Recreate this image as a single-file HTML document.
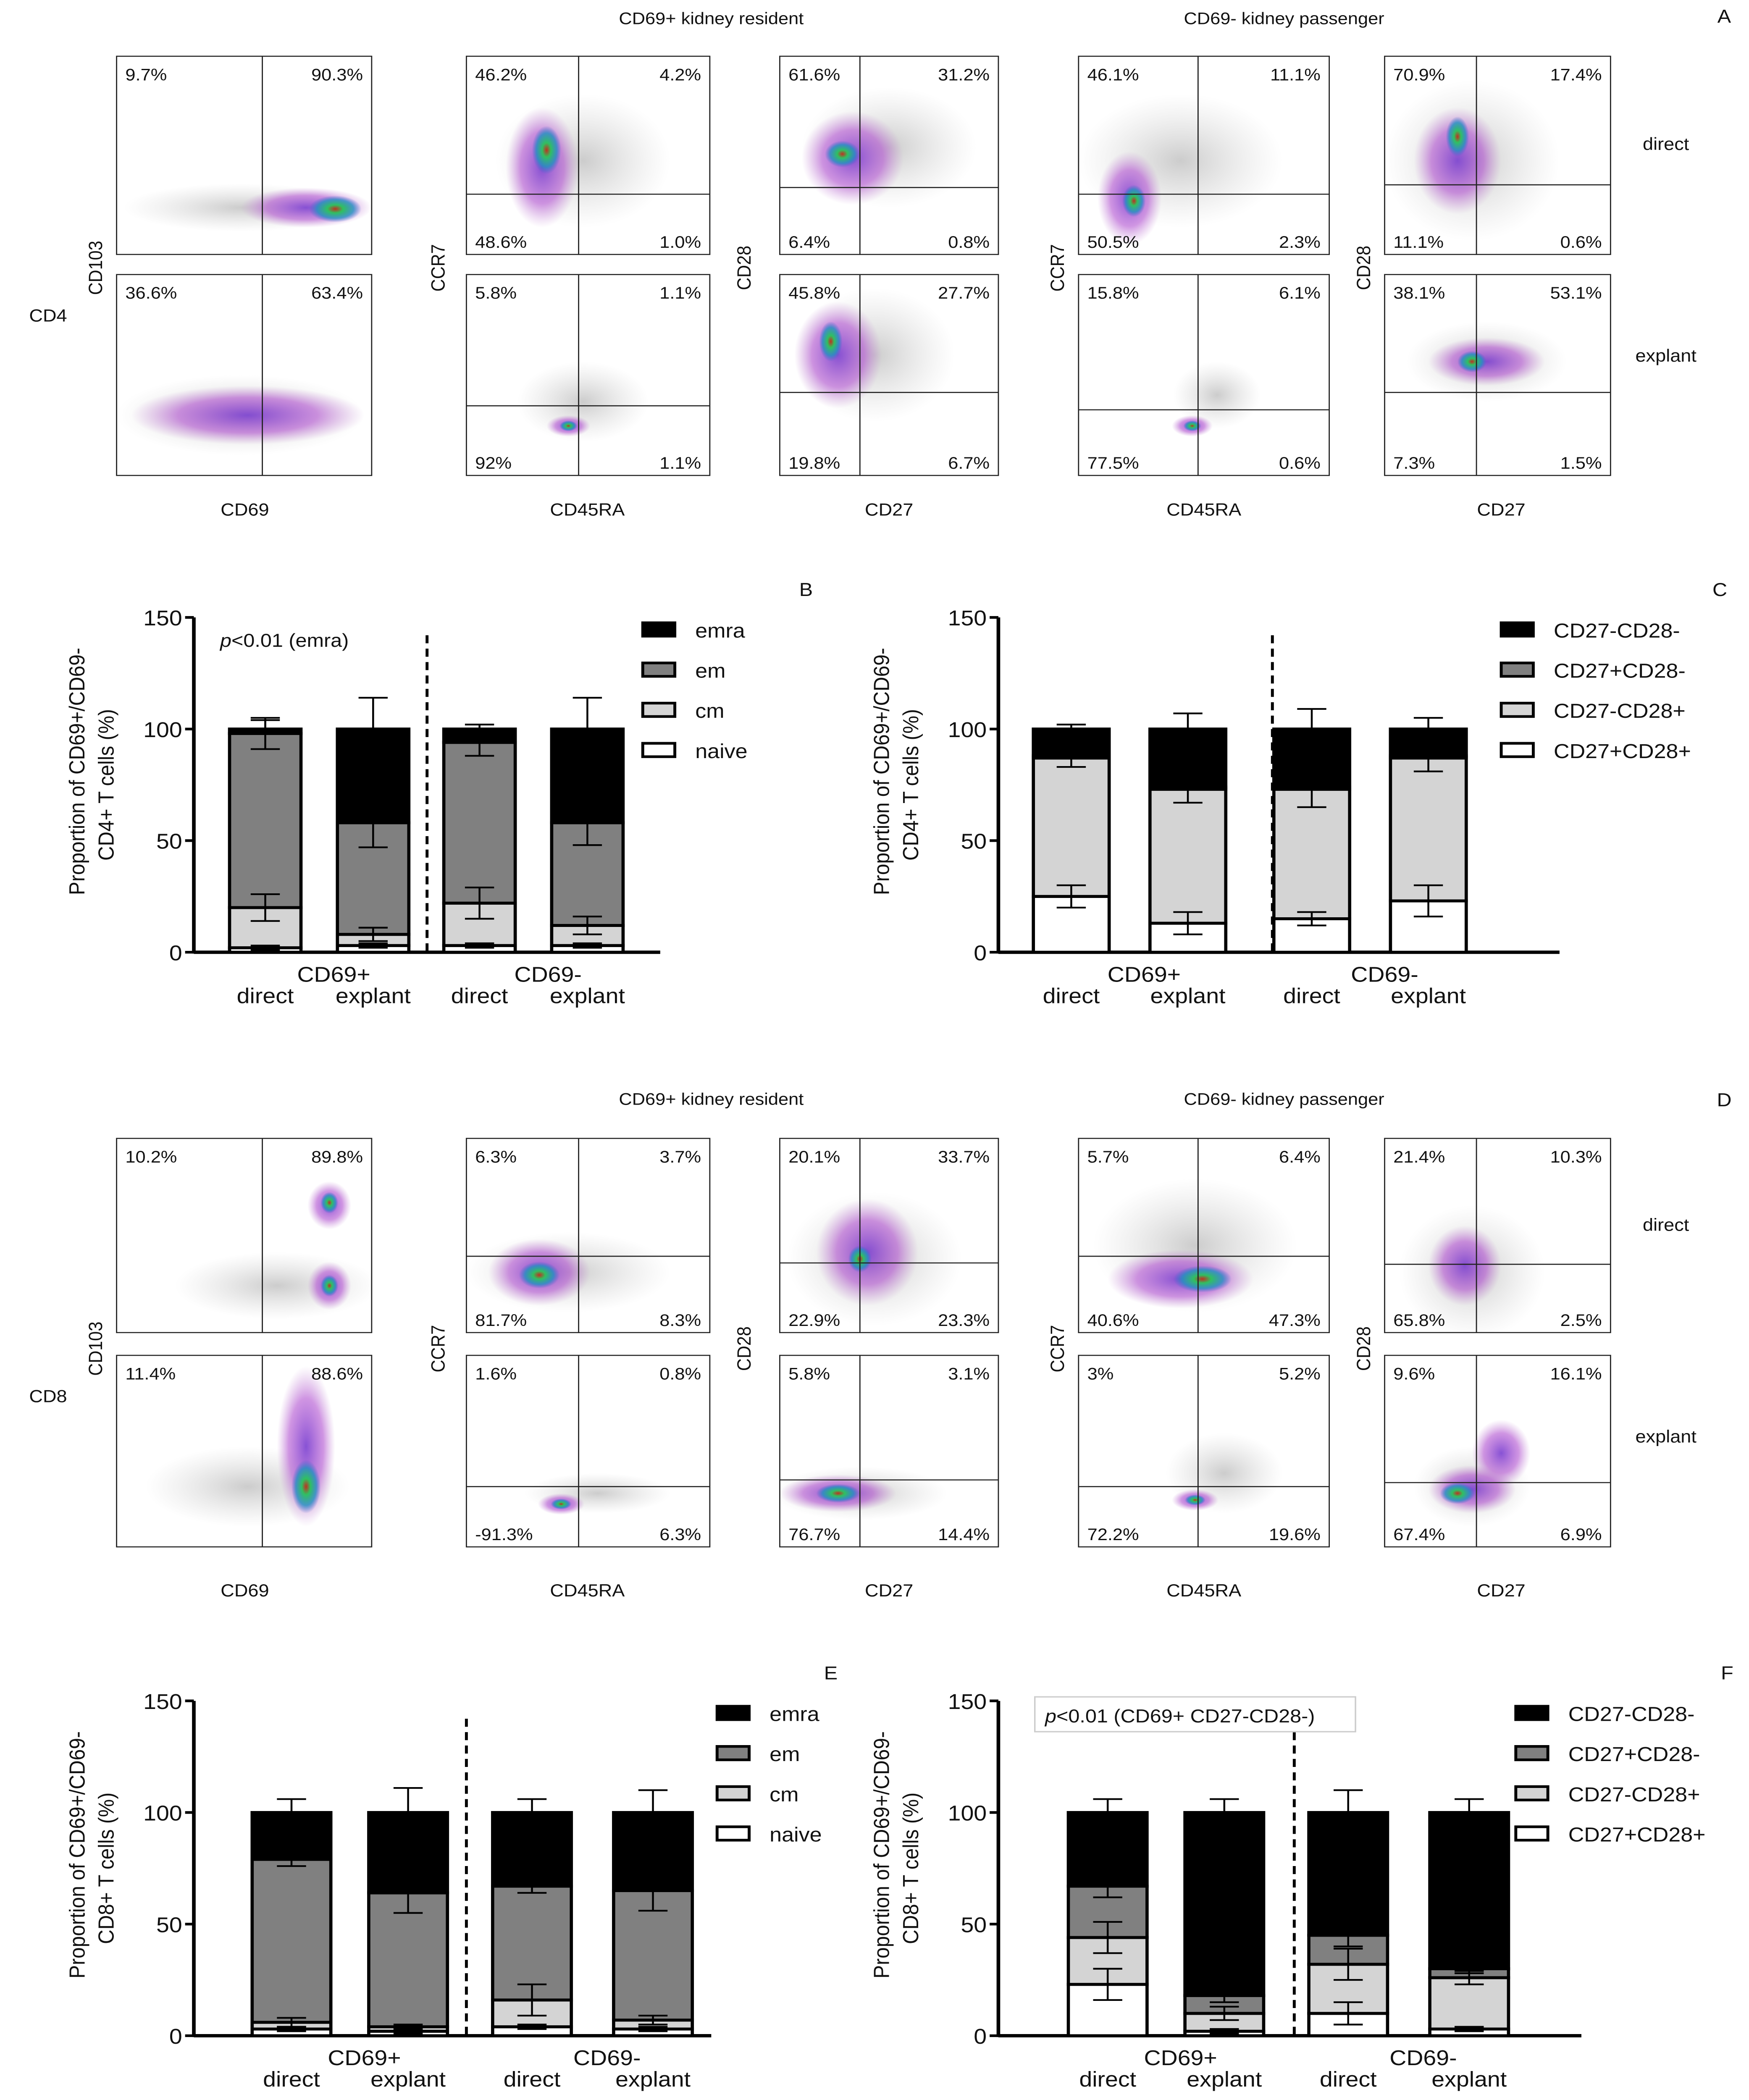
<!DOCTYPE html>
<html><head><meta charset="utf-8"><style>
html,body{margin:0;padding:0;background:#fff;overflow:hidden;width:100vw;height:100vh}
svg{display:block;font-family:"Liberation Sans",sans-serif;width:100vw;height:100vh}
</style></head><body>
<svg id="fig" viewBox="0 0 1200 1568" preserveAspectRatio="none" xmlns="http://www.w3.org/2000/svg">
<defs>
<radialGradient id="gPur"><stop offset="0" stop-color="#7a3fd0" stop-opacity="0.9"/><stop offset="0.6" stop-color="#b04fd0" stop-opacity="0.6"/><stop offset="1" stop-color="#c080d0" stop-opacity="0"/></radialGradient>
<radialGradient id="gGrn"><stop offset="0" stop-color="#c03020"/><stop offset="0.3" stop-color="#30c060"/><stop offset="0.7" stop-color="#2090c0" stop-opacity="0.8"/><stop offset="1" stop-color="#4060d0" stop-opacity="0"/></radialGradient>
<radialGradient id="gGry"><stop offset="0" stop-color="#999" stop-opacity="0.5"/><stop offset="1" stop-color="#bbb" stop-opacity="0"/></radialGradient>
</defs>
<g id="flow"></g>
<g id="bars"></g>
</svg>
<script>
const NS="http://www.w3.org/2000/svg";
const svg=document.getElementById('fig');
function mk(tag,attrs,parent){const e=document.createElementNS(NS,tag);for(const k in attrs)e.setAttribute(k,attrs[k]);(parent||svg).appendChild(e);return e;}
function txt(x,y,s,size,anchor,parent,name,rot){const t=mk('text',{x:x,y:y,'font-size':size,'text-anchor':anchor||'start',fill:'#111'},parent);if(rot)t.setAttribute('transform','rotate(-90 '+x+' '+y+')');t.textContent=s;


return t;}

const flowG=document.getElementById('flow');
const cols=[[80,175],[320,167],[535,150],[740,172],[950,155]];
const pctA=[
 [["9.7%","90.3%","",""],["46.2%","4.2%","48.6%","1.0%"],["61.6%","31.2%","6.4%","0.8%"],["46.1%","11.1%","50.5%","2.3%"],["70.9%","17.4%","11.1%","0.6%"]],
 [["36.6%","63.4%","",""],["5.8%","1.1%","92%","1.1%"],["45.8%","27.7%","19.8%","6.7%"],["15.8%","6.1%","77.5%","0.6%"],["38.1%","53.1%","7.3%","1.5%"]]];
const pctD=[
 [["10.2%","89.8%","",""],["6.3%","3.7%","81.7%","8.3%"],["20.1%","33.7%","22.9%","23.3%"],["5.7%","6.4%","40.6%","47.3%"],["21.4%","10.3%","65.8%","2.5%"]],
 [["11.4%","88.6%","",""],["1.6%","0.8%","-91.3%","6.3%"],["5.8%","3.1%","76.7%","14.4%"],["3%","5.2%","72.2%","19.6%"],["9.6%","16.1%","67.4%","6.9%"]]];
const vlineA=[180,397,590,822,1013], hA=[[null,145,140,145,138],[null,303,293,306,293]];
const vlineD=[180,397,590,822,1013], hD=[[null,938,943,938,944],[null,1110,1105,1110,1107]];
const blobsA=[
 [[[165,155,80,18,'gGry'],[210,155,45,15,'gPur'],[230,156,18,10,'gGrn']],
  [[400,120,60,50,'gGry'],[372,125,25,45,'gPur'],[375,112,10,18,'gGrn']],
  [[610,110,60,45,'gGry'],[585,118,35,35,'gPur'],[578,115,12,10,'gGrn']],
  [[810,120,70,50,'gGry'],[775,148,22,35,'gPur'],[778,150,8,12,'gGrn']],
  [[1010,120,60,60,'gGry'],[1000,120,30,40,'gPur'],[1000,102,8,15,'gGrn']]],
 [[[165,310,85,30,'gGry'],[170,310,80,22,'gPur']],
  [[400,300,45,30,'gGry'],[390,318,15,8,'gPur'],[390,318,6,4,'gGrn']],
  [[600,265,55,50,'gGry'],[575,265,30,40,'gPur'],[570,255,8,15,'gGrn']],
  [[835,295,30,25,'gGry'],[818,318,14,8,'gPur'],[818,318,6,4,'gGrn']],
  [[1020,270,55,30,'gGry'],[1020,270,40,18,'gPur'],[1010,270,10,8,'gGrn']]]];
const blobsD=[
 [[[190,960,70,25,'gGry'],[226,900,15,18,'gPur'],[226,960,15,18,'gPur'],[226,898,6,8,'gGrn'],[226,960,6,8,'gGrn']],
  [[390,950,70,30,'gGry'],[370,950,35,25,'gPur'],[370,952,14,10,'gGrn']],
  [[600,940,60,50,'gGry'],[595,935,35,40,'gPur'],[590,940,8,10,'gGrn']],
  [[820,930,70,50,'gGry'],[810,955,50,22,'gPur'],[825,955,20,10,'gGrn']],
  [[1010,950,50,50,'gGry'],[1005,945,25,30,'gPur']]],
 [[[170,1110,70,30,'gGry'],[210,1080,20,60,'gPur'],[210,1110,10,20,'gGrn']],
  [[410,1115,50,15,'gGry'],[385,1123,16,8,'gPur'],[385,1123,7,4,'gGrn']],
  [[590,1115,60,20,'gGry'],[575,1115,40,14,'gPur'],[575,1115,15,7,'gGrn']],
  [[840,1100,40,30,'gGry'],[820,1120,16,8,'gPur'],[820,1120,7,4,'gGrn']],
  [[1010,1110,40,30,'gGry'],[1030,1085,20,25,'gPur'],[1010,1112,30,18,'gPur'],[1000,1115,12,8,'gGrn']]]];

function panel(rowsY,pcts,vl,hl,blobs,tag){
 for(let r=0;r<2;r++){for(let c=0;c<5;c++){
  const [x,w]=cols[c];const [y,h]=rowsY[r];
  const g=mk('g',{},flowG);
  
  
  const cp='clip'+tag+r+c;
  const cpe=mk('clipPath',{id:cp},g);mk('rect',{x:x,y:y,width:w,height:h},cpe);
  const bg=mk('g',{'clip-path':'url(#'+cp+')'},g);
  blobs[r][c].forEach(b=>{mk('ellipse',{cx:b[0],cy:b[1],rx:b[2],ry:b[3],fill:'url(#'+b[4]+')'},bg);});
  mk('rect',{x:x,y:y,width:w,height:h,fill:'none',stroke:'#222','stroke-width':0.8},g);
  mk('line',{x1:vl[c],x2:vl[c],y1:y,y2:y+h,stroke:'#222','stroke-width':0.8},g);
  if(hl[r][c]!==null) mk('line',{x1:x,x2:x+w,y1:hl[r][c],y2:hl[r][c],stroke:'#222','stroke-width':0.8},g);
  const p=pcts[r][c];
  txt(x+6,y+18,p[0],12.5,'start',g,'quadrant-pct');
  txt(x+w-6,y+18,p[1],12.5,'end',g,'quadrant-pct');
  if(p[2])txt(x+6,y+h-5,p[2],12.5,'start',g,'quadrant-pct');
  if(p[3])txt(x+w-6,y+h-5,p[3],12.5,'end',g,'quadrant-pct');
 }}
}
panel([[42,148],[205,150]],pctA,vlineA,hA,blobsA,'A');
panel([[850,145],[1012,143]],pctD,vlineD,hD,blobsD,'D');

function flowLabels(dy,cd){
 txt(488,18+dy,'CD69+ kidney resident',12.5,'middle',flowG,'resident-title');
 txt(881,18+dy,'CD69- kidney passenger',12.5,'middle',flowG,'passenger-title');
 txt(20,240+dy,cd,13,'start',flowG,'cell-type-label');
 txt(70,200+dy,'CD103',13,'middle',flowG,'y-axis-title',true);
 txt(305,200+dy,'CCR7',13,'middle',flowG,'y-axis-title',true);
 txt(515,200+dy,'CD28',13,'middle',flowG,'y-axis-title',true);
 txt(730,200+dy,'CCR7',13,'middle',flowG,'y-axis-title',true);
 txt(940,200+dy,'CD28',13,'middle',flowG,'y-axis-title',true);
 txt(168,385+dy,'CD69',13,'middle',flowG,'x-axis-title');
 txt(403,385+dy,'CD45RA',13,'middle',flowG,'x-axis-title');
 txt(610,385+dy,'CD27',13,'middle',flowG,'x-axis-title');
 txt(826,385+dy,'CD45RA',13,'middle',flowG,'x-axis-title');
 txt(1030,385+dy,'CD27',13,'middle',flowG,'x-axis-title');
 txt(1143,112+dy,'direct',13,'middle',flowG,'row-label');
 txt(1143,270+dy,'explant',13,'middle',flowG,'row-label');
}
flowLabels(0,'CD4');
flowLabels(807,'CD8');
txt(1183,17,'A',14,'middle',flowG,'panel-label-a');
txt(1183,826,'D',14,'middle',flowG,'panel-label-d');

const groups=["CD69+ direct","CD69+ explant","CD69- direct","CD69- explant"];
const memLabels=["naive","cm","em","emra"];
const cdLabels=["CD27+CD28+","CD27-CD28+","CD27+CD28-","CD27-CD28-"];
const yTicks=[0,50,100,150];
const bTops=[[2,20,98,100],[3,8,58,100],[3,22,94,100],[3,12,58,100]];
const bErr=[[1,6,7,4],[1,3,11,14],[1,7,6,2],[1,4,10,14]];
const cTops=[[25,87,88,100],[13,73,74,100],[15,73,74,100],[23,87,88,100]];
const cErr=[[5,4,1,2],[5,6,1,7],[3,8,1,9],[7,6,1,5]];
const eTops=[[3,6,79,100],[2,4,64,100],[4,16,67,100],[3,7,65,100]];
const eErr=[[1,2,3,6],[1,1,9,11],[1,7,3,6],[1,2,9,10]];
const fTops=[[23,44,67,100],[2,10,18,100],[10,32,45,100],[3,26,30,100]];
const fErr=[[7,7,5,6],[1,3,3,6],[5,7,5,10],[1,3,2,6]];
const fills=['#fff','#d4d4d4','#808080','#000'];

function barChart(o){
 const g=mk('g',{},document.getElementById('bars'));
 
 
 const y=v=>o.y0-(v/150)*(o.y0-o.y150);
 const xc=i=>o.ax+o.off[i];
 const ax=mk('line',{x1:o.ax,x2:o.ax,y1:y(150),y2:y(0)+1,stroke:'#000','stroke-width':2.5},g);
 
 
 const xa=mk('line',{x1:o.ax,x2:o.ax+o.xlen,y1:y(0),y2:y(0),stroke:'#000','stroke-width':2.5},g);
 
 
 yTicks.forEach(t=>{mk('line',{x1:o.ax-6,x2:o.ax,y1:y(t),y2:y(t),stroke:'#000','stroke-width':2},g);
  txt(o.ax-8,y(t)+6,String(t),16,'end',g,'y-tick-label');});
 txt(o.ax-75,(y(0)+y(150))/2-10,'Proportion of CD69+/CD69-',15,'middle',g,'y-axis-title',true);
 txt(o.ax-55,(y(0)+y(150))/2,o.ytitle2,15,'middle',g,'y-axis-title',true);
 const d=mk('line',{x1:o.ax+o.dash,x2:o.ax+o.dash,y1:y(142),y2:y(0),stroke:'#000','stroke-width':2,'stroke-dasharray':'6,4'},g);
 
 
 const bw=o.bw;
 o.tops.forEach((tops,i)=>{
  let prev=0;
  tops.forEach((t,s)=>{
   const r=mk('rect',{x:xc(i)-bw/2,y:y(t),width:bw,height:Math.max(0,y(prev)-y(t)),fill:fills[s],stroke:'#000','stroke-width':2.2},g);
   
   
   prev=t;
  });
  tops.forEach((t,s)=>{
   const e=o.err[i][s];const top=s===3;
   const lo=top?t:t-e, hi=t+e;
   mk('line',{x1:xc(i),x2:xc(i),y1:y(hi),y2:y(lo),stroke:'#000','stroke-width':1.3},g);
   mk('line',{x1:xc(i)-10,x2:xc(i)+10,y1:y(hi),y2:y(hi),stroke:'#000','stroke-width':1.3},g);
   if(!top)mk('line',{x1:xc(i)-10,x2:xc(i)+10,y1:y(lo),y2:y(lo),stroke:'#000','stroke-width':1.3},g);
  });
  txt(xc(i),y(0)+38,i%2===0?'direct':'explant',16,'middle',g,'x-tick-label');
 });
 txt((xc(0)+xc(1))/2+10,y(0)+22,'CD69+',16,'middle',g,'group-label');
 txt((xc(2)+xc(3))/2+10,y(0)+22,'CD69-',16,'middle',g,'group-label');
 o.legend.forEach((l,k)=>{
  const ly=y(150)+10+k*30;
  const r=mk('rect',{x:o.lx,y:ly-6,width:22,height:10,fill:fills[3-k],stroke:'#000','stroke-width':2},g);
  
  
  txt(o.lx+36,ly+5,l,15,'start',g,'legend-entry');
 });
 txt(o.plx,y(150)-16,o.plabel,14,'middle',g,'panel-label');
 if(o.note){const t=txt(o.ax+18,y(150)+22,'',14,'start',g,'p-value-note');
  const a=mk('tspan',{'font-style':'italic'},t);a.textContent='p';const b=mk('tspan',{},t);b.textContent=o.note;}
}
barChart({name:'chart-b',ax:133,y0:711,y150:461,off:[49,123,196,270],bw:49,dash:160,xlen:320,tops:bTops,err:bErr,legend:memLabels.slice().reverse(),lx:441,plx:553,plabel:'B',ytitle2:'CD4+ T cells (%)',note:'<0.01 (emra)'});
barChart({name:'chart-c',ax:685,y0:711,y150:461,off:[50,130,215,295],bw:52,dash:188,xlen:385,tops:cTops,err:cErr,legend:cdLabels.slice().reverse(),lx:1030,plx:1180,plabel:'C',ytitle2:'CD4+ T cells (%)'});
barChart({name:'chart-e',ax:133,y0:1520,y150:1270,off:[67,147,232,315],bw:54,dash:187,xlen:355,tops:eTops,err:eErr,legend:memLabels.slice().reverse(),lx:492,plx:570,plabel:'E',ytitle2:'CD8+ T cells (%)'});
barChart({name:'chart-f',ax:685,y0:1520,y150:1270,off:[75,155,240,323],bw:54,dash:203,xlen:400,tops:fTops,err:fErr,legend:cdLabels.slice().reverse(),lx:1040,plx:1185,plabel:'F',ytitle2:'CD8+ T cells (%)'});
const nb=mk('rect',{x:710,y:1267,width:220,height:26,fill:'#fff',stroke:'#ccc','stroke-width':1});


const nt=txt(717,1286,'',14,'start',svg,'p-value-note');
const ta=mk('tspan',{'font-style':'italic'},nt);ta.textContent='p';
const tb=mk('tspan',{},nt);tb.textContent='<0.01 (CD69+ CD27-CD28-)';
</script>
</body></html>
